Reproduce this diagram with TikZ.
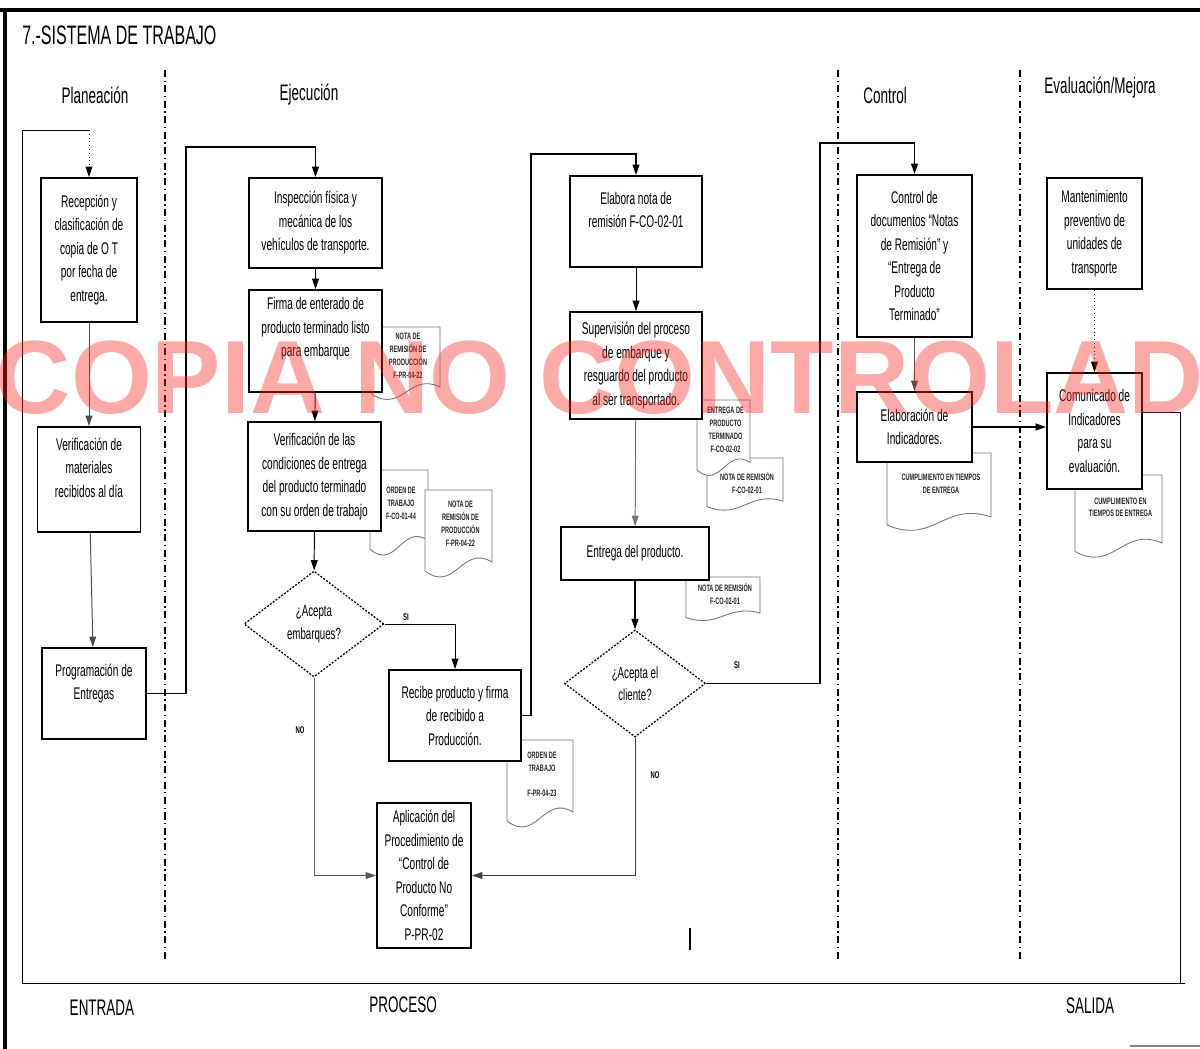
\documentclass[tikz,border=0pt]{standalone}
\usepackage{fontspec}
\setmainfont{Liberation Sans}[FakeStretch=0.6]
\newfontfamily\marcafont{Liberation Sans}
\usetikzlibrary{arrows.meta,shapes.geometric}

% documento con borde inferior ondulado: nombre, x1, y1, x2, y2, texto
\newcommand{\documento}[6]{%
  \filldraw[doc] (#2,#3) -- (#4,#3) -- (#4,{#5-0.2*(#5-#3)})
    .. controls ({#4-0.45*(#4-#2)},{#5-0.4*(#5-#3)}) and ({#2+0.45*(#4-#2)},{#5+0.15*(#5-#3)}) ..
    (#2,{#5-0.1*(#5-#3)}) -- cycle;
  \node[doctexto] (#1) at ({(#2+#4)/2+2},{#3+0.38*(#5-#3)}) {#6};}

\begin{document}
\begin{tikzpicture}[x=0.025cm,y=-0.025cm,
    caja/.style={draw, line width=1.3pt, fill=white, align=center, inner sep=1pt,
      font=\fontsize{12}{16.7}\selectfont},
    rombo/.style={diamond, draw, line width=0.9pt, dash pattern=on 1.4pt off 1.1pt,
      fill=white, align=center, inner sep=0pt, font=\fontsize{11.5}{16}\selectfont},
    flecha/.style={-{Triangle[length=2.6mm,width=1.7mm]}, line width=0.7pt},
    linea/.style={line width=0.7pt},
    carril/.style={dash pattern=on 5pt off 2.5pt on 1pt off 2.5pt, line width=0.8pt},
    doc/.style={draw=black!55, fill=white, line width=0.6pt},
    doctexto/.style={font=\bfseries\fontsize{6.6}{9.2}\selectfont, align=center,
      text=black!85, inner sep=0pt},
    etiqueta/.style={font=\bfseries\fontsize{7}{8}\selectfont, inner sep=0pt},
    titulo/.style={font=\fontsize{16}{18}\selectfont},
    pie/.style={font=\fontsize{16}{18}\selectfont}]
  \useasboundingbox (0,0) rectangle (1200,1049);

  % marco de la hoja
  \draw[line width=3pt] (0,10) -- (1200,10);
  \draw[line width=3pt] (5,10) -- (5,1049);
  \draw[black!50, line width=1pt] (1130,1046) -- (1200,1046);

  % titulo y carriles
  \node[anchor=west, font=\fontsize{19}{22}\selectfont, inner sep=0pt] (tit) at (22,35) {7.-SISTEMA DE TRABAJO};
  \node[titulo] (planea) at (95,95) {Planeación};
  \node[titulo] (ejecu) at (309,95) {Ejecución};
  \node[titulo] (contr) at (885,95) {Control};
  \node[titulo] (evalu) at (1100,88) {Evaluación/Mejora};
  \draw[carril] (165,70) -- (165,962);
  \draw[carril] (838,70) -- (838,962);
  \draw[carril] (1020,70) -- (1020,962);

  \node[pie] (entrada) at (102,1008) {ENTRADA};
  \node[pie] (proceso) at (403,1005) {PROCESO};
  \node[pie] (salida) at (1090,1006) {SALIDA};
  \draw[line width=0.8pt] (690,928) -- (690,950);

  % documentos
  \documento{d1}{372}{327}{440}{402}{NOTA DE\\REMISIÓN DE\\PRODUCCIÓN\\F-PR-04-22}
  \documento{d2}{370}{470}{428}{558}{ORDEN DE\\TRABAJO\\F-CO-01-44}
  \documento{d3}{425}{490}{492}{580}{NOTA DE\\REMISIÓN DE\\PRODUCCIÓN\\F-PR-04-22}
  \documento{d4}{507}{740}{573}{830}{ORDEN DE\\TRABAJO\\[3mm]F-PR-04-23}
  \documento{d6}{707}{458}{783}{512}{\\[1mm]NOTA DE REMISIÓN\\F-CO-02-01}
  \documento{d5}{697}{400}{750}{478}{ENTREGA DE\\PRODUCTO\\TERMINADO\\F-CO-02-02}
  \documento{d7}{686}{577}{760}{622}{NOTA DE REMISIÓN\\F-CO-02-01}
  \documento{d8}{887}{453}{991}{533}{CUMPLIMIENTO EN TIEMPOS\\DE ENTREGA}
  \documento{d9}{1075}{475}{1162}{560}{CUMPLIMIENTO EN\\TIEMPOS DE ENTREGA}

  % planeacion
  \node[caja, minimum width=2.4cm, minimum height=3.6cm] (recep) at (89,250)
    {Recepción y\\clasificación de\\copia de O T\\por fecha de\\entrega.};
  \node[caja, minimum width=2.575cm, minimum height=2.625cm] (vermat) at (89,479.5)
    {Verificación de\\materiales\\recibidos al día\\~};
  \node[caja, minimum width=2.6cm, minimum height=2.275cm] (progr) at (94,693.5)
    {Programación de\\Entregas\\~};

  % ejecucion
  \node[caja, minimum width=3.325cm, minimum height=2.25cm] (insp) at (315.5,223)
    {Inspección física y\\mecánica de los\\vehículos de transporte.};
  \node[caja, minimum width=3.325cm, minimum height=2.55cm] (firma) at (315.5,341)
    {Firma de enterado de\\producto terminado listo\\para embarque\\[1mm]};
  \node[caja, minimum width=3.325cm, minimum height=2.725cm] (vercond) at (314.5,476.5)
    {Verificación de las\\condiciones de entrega\\del producto terminado\\con su orden de trabajo};
  \node[rombo, minimum width=3.5cm, minimum height=2.65cm] (dia1) at (314,624)
    {¿Acepta\\embarques?};
  \node[caja, minimum width=3.3cm, minimum height=2.275cm] (recibe) at (455,715.5)
    {Recibe producto y firma\\de recibido a\\Producción.};
  \node[caja, minimum width=2.35cm, minimum height=3.625cm] (aplic) at (424,875.5)
    {Aplicación del\\Procedimiento de\\“Control de\\Producto No\\Conforme”\\P-PR-02};
  \node[caja, minimum width=3.3cm, minimum height=2.275cm] (elabora) at (636,221.5)
    {Elabora nota de\\remisión F-CO-02-01\\~};
  \node[caja, minimum width=3.3cm, minimum height=2.675cm] (superv) at (636,365.5)
    {Supervisión del proceso\\de embarque y\\resguardo del producto\\al ser transportado.};
  \node[caja, minimum width=3.7cm, minimum height=1.325cm] (entrega) at (635,553.5)
    {Entrega del producto.};
  \node[rombo, minimum width=3.525cm, minimum height=2.675cm] (dia2) at (635,683.5)
    {¿Acepta el\\cliente?};

  % control y evaluacion
  \node[caja, minimum width=2.875cm, minimum height=4.05cm] (ctrldoc) at (914.5,256)
    {Control de\\documentos “Notas\\de Remisión” y\\“Entrega de\\Producto\\Terminado”};
  \node[caja, minimum width=2.875cm, minimum height=1.75cm] (elabind) at (914.5,427)
    {Elaboración de\\Indicadores.};
  \node[caja, minimum width=2.375cm, minimum height=2.775cm] (mant) at (1094.5,233.5)
    {Mantenimiento\\preventivo de\\unidades de\\transporte};
  \node[caja, minimum width=2.375cm, minimum height=2.9cm] (comun) at (1094.5,431)
    {Comunicado de\\Indicadores\\para su\\evaluación.};

  % puntos de quiebre
  \coordinate (lazoA) at (1180,412);
  \coordinate (lazoB) at (1180,983);
  \coordinate (lazoC) at (22,983);
  \coordinate (lazoD) at (22,130);
  \coordinate (codo1) at (186,147);
  \coordinate (codo2) at (531,154);
  \coordinate (codo3) at (820,143);

  % conectores
  \draw[linea] (comun.east |- lazoA) -- (lazoA) -- (lazoB) -- (1185,983) -- (lazoC) -- (lazoD) -- (lazoD -| recep.north);
  \draw[flecha, dotted] (lazoD -| recep.north) -- (recep.north);
  \draw[flecha, black!70] (recep) -- (vermat);
  \draw[flecha, black!70] (vermat) -- (progr);
  \draw[flecha, line width=1pt] (progr.east) -| (codo1) -| (insp.north);
  \draw[flecha] (insp) -- (firma);
  \draw[flecha] (firma) -- (vercond);
  \draw[flecha] (vercond) -- (dia1);
  \draw[flecha] (dia1.east) -| (recibe.north);
  \node[etiqueta] (si1) at (406,617) {SI};
  \draw[flecha, black!65] (dia1.south) |- (aplic.west);
  \node[etiqueta] (no1) at (300,730) {NO};
  \draw[flecha, line width=1pt] (recibe.east) -| (codo2) -| (elabora.north);
  \draw[flecha] (elabora) -- (superv);
  \draw[flecha, black!55] (superv) -- (entrega);
  \draw[flecha, line width=1pt] (entrega) -- (dia2);
  \draw[flecha, line width=1pt] (dia2.east) -| (codo3) -| (ctrldoc.north);
  \node[etiqueta] (si2) at (737,665) {SI};
  \draw[flecha, black!75] (dia2.south) |- (aplic.east);
  \node[etiqueta] (no2) at (655,775) {NO};
  \draw[flecha, black!70] (ctrldoc) -- (elabind);
  \draw[flecha, line width=1.2pt] (elabind.east) -- (elabind.east -| comun.west);
  \draw[flecha, dotted] (mant) -- (comun);

  % sello
  \node[font=\marcafont\bfseries\fontsize{74}{74}\selectfont, text=red!85, text opacity=0.4]
    (marca) at (600,378) {COPIA NO CONTROLAD};
\end{tikzpicture}
\end{document}
